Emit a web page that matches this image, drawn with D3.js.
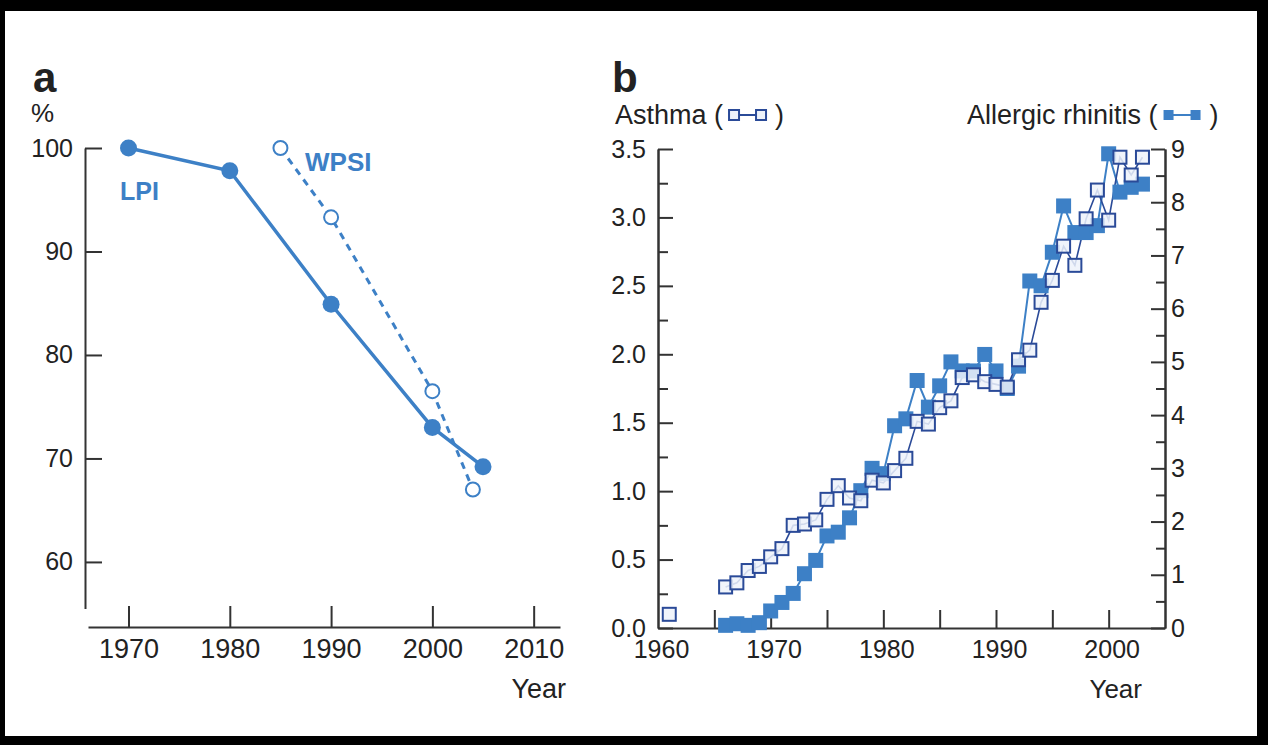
<!DOCTYPE html>
<html>
<head>
<meta charset="utf-8">
<script src="https://cdn.jsdelivr.net/npm/d3@7/dist/d3.min.js"></script>
<style>
  body { margin: 0; background: #000; }
  svg text { font-family: "Liberation Sans", Arial, sans-serif; fill: #222; }
</style>
</head>
<body>
<svg id="chart" width="1268" height="745"></svg>
<script>
// panel a : living planet index / wild bird populations
const lpiYears = [1970, 1980, 1990, 2000, 2005];
const lpiValues = [100, 97.8, 84.9, 73.0, 69.2];
const wpsiYears = [1985, 1990, 2000, 2004];
const wpsiValues = [100, 93.3, 76.5, 67.0];
const aYTicks = [60, 70, 80, 90, 100];
const aXTicks = [1970, 1980, 1990, 2000, 2010];

// panel b : asthma (left axis) and allergic rhinitis (right axis)
const asthmaYears = [1961, 1966, 1967, 1968, 1969, 1970, 1971, 1972, 1973, 1974, 1975, 1976, 1977, 1978, 1979,
  1980, 1981, 1982, 1983, 1984, 1985, 1986, 1987, 1988, 1989, 1990, 1991, 1992, 1993, 1994, 1995, 1996,
  1997, 1998, 1999, 2000, 2001, 2002, 2003];
const asthmaValues = [0.10, 0.30, 0.33, 0.42, 0.45, 0.52, 0.58, 0.75, 0.76, 0.79, 0.94, 1.04, 0.95, 0.93, 1.08,
  1.06, 1.15, 1.24, 1.51, 1.49, 1.61, 1.66, 1.83, 1.85, 1.80, 1.78, 1.76, 1.96, 2.03, 2.38, 2.54, 2.79,
  2.65, 2.99, 3.20, 2.98, 3.44, 3.31, 3.44];
const rhinitisYears = [1966, 1967, 1968, 1969, 1970, 1971, 1972, 1973, 1974, 1975, 1976, 1977, 1978, 1979,
  1980, 1981, 1982, 1983, 1984, 1985, 1986, 1987, 1988, 1989, 1990, 1991, 1992, 1993, 1994, 1995, 1996,
  1997, 1998, 1999, 2000, 2001, 2002, 2003];
const rhinitisValues = [0.05, 0.08, 0.05, 0.10, 0.32, 0.48, 0.65, 1.02, 1.27, 1.73, 1.80, 2.07, 2.58, 3.00,
  2.90, 3.80, 3.93, 4.65, 4.15, 4.55, 5.00, 4.83, 4.83, 5.14, 4.83, 4.50, 4.92, 6.52, 6.43, 7.06, 7.93,
  7.43, 7.43, 7.56, 8.91, 8.19, 8.28, 8.34];
const bLeftTicks = [0, 0.5, 1, 1.5, 2, 2.5, 3, 3.5];
const bLeftMinor = [0.25, 0.75, 1.25, 1.75, 2.25, 2.75, 3.25];
const bRightTicks = [0, 1, 2, 3, 4, 5, 6, 7, 8, 9];
const bRightMinor = [0.5, 1.5, 2.5, 3.5, 4.5, 5.5, 6.5, 7.5, 8.5];
const bXLabels = [1960, 1970, 1980, 1990, 2000];
const bXTicks = [1965, 1970, 1975, 1980, 1985, 1990, 1995, 2000];

const blue = "#3d80c6";
const navy = "#2a4a98";
const axisCol = "#333";

const svg = d3.select("#chart");
// white sheet inside the black frame
svg.append("rect").attr("x", 5).attr("y", 11).attr("width", 1252).attr("height", 725).attr("fill", "#fff");

function styleAxis(g, size) {
  g.attr("font-size", size).attr("font-family", "Liberation Sans, Arial, sans-serif");
  g.selectAll("line").attr("stroke", axisCol).attr("stroke-width", 2);
  g.selectAll("path").attr("stroke", axisCol).attr("stroke-width", 2);
  g.selectAll("text").attr("fill", "#222");
}

// ---------------- panel a ----------------
const xA = d3.scaleLinear().domain([1966, 2012.6]).range([88, 560]);
const yA = d3.scaleLinear().domain([55.5, 100]).range([608.5, 148]);

const axYA = svg.append("g").attr("transform", "translate(85,0)")
  .call(d3.axisLeft(yA).tickValues(aYTicks).tickSizeInner(-17).tickSizeOuter(0).tickPadding(12));
styleAxis(axYA, 25);

const axXA = svg.append("g").attr("transform", "translate(0,627)")
  .call(d3.axisBottom(xA).tickValues(aXTicks).tickSizeInner(-21).tickSizeOuter(0).tickPadding(12).tickFormat(d3.format("d")));
styleAxis(axXA, 27);

svg.append("text").attr("x", 33).attr("y", 92).attr("font-size", 42).attr("font-weight", "bold").text("a");
svg.append("text").attr("x", 31).attr("y", 122).attr("font-size", 26).text("%");
svg.append("text").attr("x", 566).attr("y", 698).attr("font-size", 27).attr("text-anchor", "end").text("Year");

const lpi = lpiYears.map((y, i) => [y, lpiValues[i]]);
const wpsi = wpsiYears.map((y, i) => [y, wpsiValues[i]]);
const lineA = d3.line().x(d => xA(d[0])).y(d => yA(d[1]));

svg.append("path").attr("d", lineA(wpsi)).attr("fill", "none").attr("stroke", blue)
  .attr("stroke-width", 3).attr("stroke-dasharray", "7,6");
svg.append("path").attr("d", lineA(lpi)).attr("fill", "none").attr("stroke", blue).attr("stroke-width", 3.5);

svg.selectAll(".wpsi").data(wpsi).enter().append("circle").attr("class", "wpsi")
  .attr("cx", d => xA(d[0])).attr("cy", d => yA(d[1])).attr("r", 7)
  .attr("fill", "#fff").attr("stroke", blue).attr("stroke-width", 2);
svg.selectAll(".lpi").data(lpi).enter().append("circle").attr("class", "lpi")
  .attr("cx", d => xA(d[0])).attr("cy", d => yA(d[1])).attr("r", 8.5).attr("fill", blue);

svg.append("text").attr("x", 120).attr("y", 200).attr("font-size", 25).attr("font-weight", "bold")
  .style("fill", blue).text("LPI");
svg.append("text").attr("x", 305).attr("y", 171).attr("font-size", 26).attr("font-weight", "bold")
  .style("fill", blue).text("WPSI");

// ---------------- panel b ----------------
const xB = d3.scaleLinear().domain([1960, 2005]).range([658, 1165]);
const yL = d3.scaleLinear().domain([0, 3.5]).range([628, 149]);
const yR = d3.scaleLinear().domain([0, 9]).range([628, 149]);

const axLm = svg.append("g").attr("transform", "translate(658,0)")
  .call(d3.axisLeft(yL).tickValues(bLeftMinor).tickSizeInner(-10).tickSizeOuter(0).tickFormat(""));
styleAxis(axLm, 25);
const axL = svg.append("g").attr("transform", "translate(658,0)")
  .call(d3.axisLeft(yL).tickValues(bLeftTicks).tickSizeInner(-15).tickSizeOuter(0).tickPadding(12).tickFormat(d3.format(".1f")));
styleAxis(axL, 25);

const axRm = svg.append("g").attr("transform", "translate(1165,0)")
  .call(d3.axisRight(yR).tickValues(bRightMinor).tickSizeInner(-9).tickSizeOuter(0).tickFormat(""));
styleAxis(axRm, 25);
const axR = svg.append("g").attr("transform", "translate(1165,0)")
  .call(d3.axisRight(yR).tickValues(bRightTicks).tickSizeInner(-14).tickSizeOuter(0).tickPadding(6));
styleAxis(axR, 25);

const axXt = svg.append("g").attr("transform", "translate(0,628)")
  .call(d3.axisBottom(xB).tickValues(bXTicks).tickSizeInner(-18).tickSizeOuter(0).tickFormat(""));
styleAxis(axXt, 25);
const axXl = svg.append("g").attr("transform", "translate(0,628)")
  .call(d3.axisBottom(xB).tickValues(bXLabels).tickSize(0).tickPadding(12).tickFormat(d3.format("d")));
styleAxis(axXl, 25);
axXl.select("path").remove();
axXl.selectAll("text").attr("dx", 3);

svg.append("text").attr("x", 612).attr("y", 92).attr("font-size", 42).attr("font-weight", "bold").text("b");
svg.append("text").attr("x", 1142).attr("y", 698).attr("font-size", 26).attr("text-anchor", "end").text("Year");

const asthma = asthmaYears.map((y, i) => [y, asthmaValues[i]]);
const rhin = rhinitisYears.map((y, i) => [y, rhinitisValues[i]]);
// 1961 asthma point stands alone, the line starts in 1966
const lineL = d3.line().x(d => xB(d[0])).y(d => yL(d[1]));
const lineR = d3.line().x(d => xB(d[0])).y(d => yR(d[1]));
const asthmaRun = asthma.filter(d => d[0] >= 1966);

svg.append("path").attr("d", lineR(rhin)).attr("fill", "none").attr("stroke", blue).attr("stroke-width", 2);
svg.append("path").attr("d", lineL(asthmaRun)).attr("fill", "none").attr("stroke", navy).attr("stroke-width", 1.6);

const sq = 15;
svg.selectAll(".rh").data(rhin).enter().append("rect").attr("class", "rh")
  .attr("x", d => xB(d[0]) - sq / 2).attr("y", d => yR(d[1]) - sq / 2)
  .attr("width", sq).attr("height", sq).attr("fill", blue);
svg.selectAll(".as").data(asthma).enter().append("rect").attr("class", "as")
  .attr("x", d => xB(d[0]) - (sq - 2) / 2).attr("y", d => yL(d[1]) - (sq - 2) / 2)
  .attr("width", sq - 2).attr("height", sq - 2).attr("fill", "#edf2fa").attr("fill-opacity", 0.85)
  .attr("stroke", navy).attr("stroke-width", 2);

// legends in the axis titles
function legendTitle(x, label, kind) {
  const t = svg.append("text").attr("x", x).attr("y", 124).attr("font-size", 27).text(label + " (");
  const w = t.node().getComputedTextLength();
  const mx = x + w + 6;
  const my = 115;
  const col = kind === "open" ? navy : blue;
  svg.append("line").attr("x1", mx + 5).attr("x2", mx + 32).attr("y1", my).attr("y2", my)
    .attr("stroke", col).attr("stroke-width", 2);
  [mx, mx + 27].forEach(px => {
    const r = svg.append("rect").attr("x", px).attr("y", my - 5).attr("width", 10).attr("height", 10);
    if (kind === "open") r.attr("fill", "#edf2fa").attr("stroke", navy).attr("stroke-width", 2);
    else r.attr("fill", blue);
  });
  svg.append("text").attr("x", mx + 46).attr("y", 124).attr("font-size", 27).text(")");
}
legendTitle(615, "Asthma", "open");
legendTitle(967, "Allergic rhinitis", "filled");
</script>
</body>
</html>
